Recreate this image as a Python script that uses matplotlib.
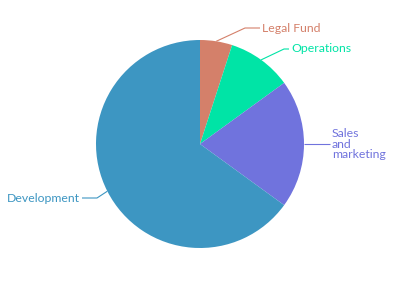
import numpy as np
import matplotlib
matplotlib.use("Agg")
import matplotlib.pyplot as plt

categories = ["Legal Fund", "Operations", "Sales\nand\nmarketing", "Development"]
values = [5, 10, 20, 65]
colors = ["#d4806a", "#00e4a6", "#7073dd", "#3d96c2"]

W, H = 400, 294
fig = plt.figure(figsize=(W / 100, H / 100), dpi=100)
ax = fig.add_axes([0, 0, 1, 1])

cx, cy, R = 200, H - 144, 104
wedges, _ = ax.pie(values, colors=colors, startangle=90, counterclock=False,
                   center=(cx, cy), radius=R, frame=True,
                   wedgeprops=dict(linewidth=0))
ax.set_xlim(0, W)
ax.set_ylim(0, H)
ax.axis("off")

# label anchor layout (text anchor point in pixel coords, y from top)
label_pos = [(260, 28), (289, 49), (330, 144), (82, 198)]
elbow_gap = [15, 5, 0, 15]

for w, name, col, (tx, ty), gap in zip(wedges, categories, colors, label_pos, elbow_gap):
    mid = np.deg2rad((w.theta1 + w.theta2) / 2)
    ex, ey = cx + R * np.cos(mid), cy + R * np.sin(mid)
    ty = H - ty
    right = np.cos(mid) >= 0
    elx = tx - gap if right else tx + gap
    ax.plot([ex, elx, tx], [ey, ty, ty], color=col, lw=0.8, solid_capstyle="butt")
    ax.text(tx + (2 if right else -2), ty, name, color=col, fontsize=8.8,
            ha="left" if right else "right", va="center", family="Lato",
            linespacing=0.95)

fig.savefig("out.png", dpi=100)
